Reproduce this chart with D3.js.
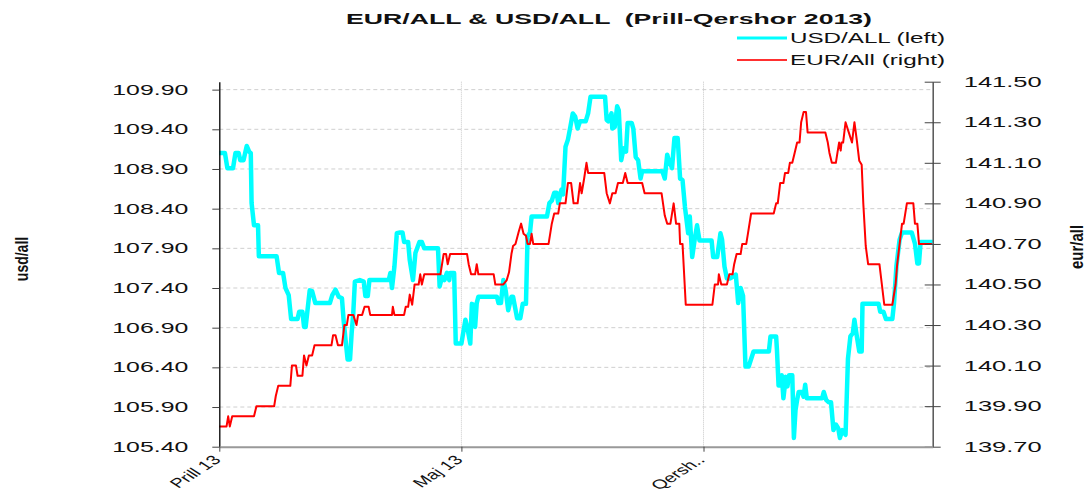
<!DOCTYPE html>
<html>
<head>
<meta charset="utf-8">
<script src="https://cdnjs.cloudflare.com/ajax/libs/d3/7.8.5/d3.min.js"></script>
<style>
  body { margin: 0; background: #fff; }
  text { font-family: "Liberation Sans", Arial, sans-serif; fill: #111; }
  .title { white-space: pre; }
</style>
</head>
<body>
<svg id="chart"></svg>
<script>
// USD/ALL (left axis): [days since 1 April, rate]
var usdSeries = [
  [0.0,109.10],[0.7,109.10],[1.0,108.91],[1.7,108.91],[2.0,109.10],[2.4,109.10],[2.6,109.01],[3.0,109.01],
  [3.4,109.19],[3.7,109.12],[3.9,109.10],[4.0,108.47],[4.3,108.19],[4.8,108.19],[4.9,107.80],[7.1,107.80],
  [7.4,107.59],[7.9,107.59],[8.2,107.40],[8.6,107.31],[8.9,107.01],[9.7,107.01],[9.9,107.10],[10.3,107.10],
  [10.5,106.91],[10.7,106.91],[11.2,107.37],[11.5,107.36],[11.9,107.21],[13.7,107.21],[14.0,107.31],[14.4,107.38],
  [14.8,107.29],[15.2,107.27],[15.4,107.00],[15.6,106.79],[15.9,106.50],[16.2,106.50],[16.4,106.83],[16.6,107.08],
  [16.8,107.48],[17.4,107.50],[17.9,107.48],[18.1,107.30],[18.4,107.30],[18.6,107.50],[21.0,107.50],[21.2,107.59],
  [21.4,107.40],[21.7,107.67],[22.0,108.09],[22.4,108.10],[22.7,108.10],[22.9,107.98],[23.4,107.98],[23.6,107.75],
  [24.0,107.50],[24.3,107.84],[24.8,107.98],[25.1,107.98],[25.4,107.90],[27.1,107.90],[27.3,107.42],[27.6,107.54],
  [27.9,107.50],[28.2,107.59],[28.5,107.50],[28.6,107.59],[29.1,107.59],[29.3,106.70],[30.0,106.70],[30.5,107.00],
  [30.7,106.92],[31.1,106.70],[31.3,107.20],[31.6,107.18],[31.7,106.91],[31.9,107.21],[32.1,107.29],[34.4,107.29],
  [34.6,107.21],[34.9,107.21],[35.2,107.50],[35.5,107.36],[35.8,107.12],[36.2,107.29],[36.4,107.29],[36.9,107.02],
  [37.3,107.02],[37.6,107.20],[38.0,107.20],[38.2,108.05],[38.5,108.10],[38.7,108.30],[40.6,108.30],[40.9,108.47],
  [41.2,108.50],[41.5,108.60],[41.8,108.60],[42.0,108.47],[42.4,108.64],[42.6,108.58],[42.9,109.18],[43.2,109.27],
  [43.5,109.43],[43.8,109.60],[44.1,109.56],[44.4,109.41],[44.7,109.50],[45.4,109.50],[45.7,109.60],[46.0,109.81],
  [47.8,109.81],[48.0,109.52],[48.2,109.50],[48.6,109.60],[48.7,109.41],[49.0,109.43],[49.3,109.69],[49.5,109.64],
  [49.8,109.01],[50.1,109.16],[50.4,109.12],[50.6,109.48],[51.1,109.48],[51.3,109.41],[51.6,109.05],[51.9,109.01],
  [52.2,108.78],[52.4,108.87],[54.9,108.87],[55.2,108.78],[55.5,109.08],[55.7,109.01],[56.1,108.91],[56.4,109.29],
  [56.8,109.29],[57.1,108.78],[57.4,108.76],[57.7,108.42],[58.1,108.09],[58.3,108.30],[58.6,107.79],[58.9,108.01],
  [59.2,108.19],[59.5,108.00],[61.0,108.00],[61.2,107.79],[61.7,107.79],[62.1,108.09],[62.3,108.01],[62.6,107.67],
  [62.9,107.52],[63.3,107.52],[63.6,107.54],[64.0,107.57],[64.3,107.21],[64.6,107.40],[64.9,107.30],[65.2,106.41],
  [65.6,106.41],[66.2,106.60],[68.1,106.60],[68.3,106.79],[69.0,106.79],[69.1,106.62],[69.3,106.17],[69.5,106.17],
  [69.7,106.30],[69.9,106.01],[70.2,106.28],[70.4,106.16],[70.6,106.30],[71.0,106.30],[71.2,105.51],[71.4,105.86],
  [71.6,105.99],[71.8,106.09],[72.2,106.09],[72.4,106.03],[72.6,106.18],[72.8,106.01],[74.7,106.01],[74.9,106.09],
  [75.2,105.99],[75.5,105.96],[75.8,105.96],[76.1,105.61],[76.4,105.68],[76.7,105.63],[76.9,105.51],[77.2,105.61],
  [77.6,105.55],[77.9,106.51],[78.2,106.79],[78.5,106.83],[78.7,107.00],[79.0,106.79],[79.3,106.60],[79.6,106.60],
  [79.7,107.20],[81.7,107.20],[81.9,107.10],[82.3,107.10],[82.6,107.01],[83.4,107.01],[83.6,107.20],[83.9,107.67],
  [84.3,108.01],[84.6,108.10],[85.8,108.10],[86.2,107.96],[86.5,107.71],[86.7,107.71],[86.9,107.98],[88.4,107.98]
];

// EUR/ALL (right axis): [days since 1 April, rate]
var eurSeries = [
  [0.0,139.80],[0.9,139.80],[1.1,139.85],[1.3,139.80],[1.6,139.85],[4.3,139.85],[4.6,139.90],[6.8,139.90],
  [7.0,139.95],[7.3,140.00],[8.8,140.00],[9.0,140.10],[9.5,140.10],[9.7,140.05],[10.3,140.05],[10.5,140.15],
  [10.8,140.10],[11.1,140.15],[11.5,140.15],[11.8,140.20],[13.9,140.20],[14.1,140.25],[14.4,140.25],[14.7,140.20],
  [15.2,140.20],[15.5,140.30],[15.8,140.30],[16.0,140.35],[16.6,140.35],[17.0,140.30],[17.2,140.35],[17.7,140.35],
  [18.0,140.39],[18.5,140.39],[18.7,140.35],[21.4,140.35],[21.5,140.39],[21.7,140.35],[22.9,140.35],[23.1,140.39],
  [23.4,140.39],[23.6,140.45],[23.9,140.40],[24.2,140.50],[24.7,140.50],[24.9,140.55],[25.1,140.50],[25.4,140.55],
  [27.4,140.55],[27.8,140.65],[28.1,140.65],[28.3,140.60],[28.6,140.65],[30.7,140.65],[30.9,140.60],[31.2,140.55],
  [31.7,140.55],[31.9,140.60],[32.1,140.55],[34.0,140.55],[34.2,140.50],[35.2,140.50],[35.6,140.52],[35.9,140.56],
  [36.2,140.65],[36.4,140.69],[36.7,140.70],[37.1,140.76],[37.4,140.80],[37.7,140.75],[38.0,140.74],[38.2,140.70],
  [38.5,140.70],[38.7,140.75],[38.9,140.70],[40.8,140.70],[41.0,140.75],[41.2,140.80],[41.5,140.85],[42.0,140.85],
  [42.2,140.90],[42.9,140.90],[43.2,141.00],[43.6,141.00],[43.9,140.90],[44.4,140.90],[44.7,141.00],[44.9,140.95],
  [45.2,141.02],[45.5,141.10],[45.7,141.05],[47.7,141.05],[48.0,140.95],[48.4,140.90],[48.7,140.95],[49.1,140.95],
  [49.4,141.00],[50.0,141.00],[50.3,141.05],[50.6,141.00],[52.4,141.00],[52.7,140.95],[54.8,140.95],[55.2,140.84],
  [55.5,140.80],[55.9,140.80],[56.3,140.90],[56.6,140.80],[57.0,140.80],[57.1,140.70],[57.4,140.70],[57.8,140.40],
  [61.1,140.40],[61.4,140.50],[61.8,140.50],[61.9,140.55],[62.2,140.50],[62.9,140.50],[63.2,140.55],[63.6,140.55],
  [63.8,140.60],[64.1,140.65],[64.6,140.65],[64.8,140.70],[65.3,140.70],[65.5,140.75],[65.9,140.85],[68.7,140.85],
  [69.0,140.90],[69.2,140.90],[69.5,141.00],[69.9,141.00],[70.1,141.05],[70.5,141.05],[70.7,141.10],[71.0,141.10],
  [71.3,141.15],[71.6,141.20],[71.9,141.20],[72.1,141.30],[72.4,141.35],[72.7,141.35],[72.9,141.25],[75.1,141.25],
  [75.4,141.20],[75.6,141.15],[75.9,141.10],[76.4,141.10],[76.6,141.15],[76.8,141.20],[77.0,141.16],[77.1,141.20],
  [77.3,141.20],[77.6,141.30],[78.0,141.25],[78.4,141.20],[78.7,141.30],[79.0,141.21],[79.3,141.11],[79.6,141.09],
  [79.8,140.90],[80.1,140.69],[80.4,140.60],[81.8,140.60],[82.1,140.50],[82.4,140.40],[83.4,140.40],[83.8,140.50],
  [84.0,140.60],[84.3,140.70],[84.6,140.80],[84.8,140.80],[85.2,140.90],[86.0,140.90],[86.2,140.80],[86.5,140.80],
  [86.7,140.70],[88.3,140.70]
];

var monthDays = [0, 30, 60];
var monthLabels = ["Prill 13", "Maj 13", "Qersh.."];
var usdTicks = [105.40, 105.90, 106.40, 106.90, 107.40, 107.90, 108.40, 108.90, 109.40, 109.90];
var eurTicks = [139.70, 139.90, 140.10, 140.30, 140.50, 140.70, 140.90, 141.10, 141.30, 141.50];

var W = 1086, H = 489;
var plot = {left: 219.3, right: 932.7, top: 81.7, bottom: 446.7};

var svg = d3.select("#chart")
    .attr("width", W)
    .attr("height", H);

// Scales
var x = d3.scaleLinear().domain([0, 88.4]).range([plot.left, plot.right]);
var yL = d3.scaleLinear().domain([105.40, 110.00]).range([plot.bottom, plot.top]);
var yR = d3.scaleLinear().domain([139.70, 141.50]).range([plot.bottom, plot.top]);

// Horizontal grid (left ticks)
svg.append("g")
  .selectAll("line")
  .data(usdTicks.slice(1))
  .enter()
  .append("line")
    .attr("x1", plot.left).attr("x2", plot.right)
    .attr("y1", function(d) { return yL(d); })
    .attr("y2", function(d) { return yL(d); })
    .attr("stroke", "#cfcfcf")
    .attr("stroke-dasharray", "4,3");

// Vertical grid at month starts
svg.append("g")
  .selectAll("line")
  .data(monthDays.slice(1))
  .enter()
  .append("line")
    .attr("x1", function(d) { return x(d); })
    .attr("x2", function(d) { return x(d); })
    .attr("y1", plot.top).attr("y2", plot.bottom)
    .attr("stroke", "#c8c8c8")
    .attr("stroke-dasharray", "1,1");

// Lines
var usdLine = d3.line()
    .x(function(d) { return x(d[0]); })
    .y(function(d) { return yL(d[1]); });
var eurLine = d3.line()
    .x(function(d) { return x(d[0]); })
    .y(function(d) { return yR(d[1]); });

svg.append("path")
    .datum(usdSeries)
    .attr("d", usdLine)
    .attr("fill", "none")
    .attr("stroke", "#00ffff")
    .attr("stroke-width", 4.5)
    .attr("stroke-linejoin", "round");

svg.append("path")
    .datum(eurSeries)
    .attr("d", eurLine)
    .attr("fill", "none")
    .attr("stroke", "#ff0000")
    .attr("stroke-width", 2)
    .attr("stroke-linejoin", "round");

// Left axis
var leftAxis = svg.append("g")
    .attr("transform", "translate(" + plot.left + ",0)")
    .call(d3.axisLeft(yL).tickValues(usdTicks).tickFormat(d3.format(".2f")).tickSize(7).tickSizeOuter(0));
leftAxis.select(".domain").attr("stroke", "#000").attr("stroke-width", 1.3);
leftAxis.selectAll(".tick line").attr("stroke", "#444");
leftAxis.selectAll("text")
    .attr("x", -31)
    .attr("font-size", 14)
    .attr("textLength", 76)
    .attr("lengthAdjust", "spacingAndGlyphs");

// Right axis
var rightAxis = svg.append("g")
    .attr("transform", "translate(" + plot.right + ",0)")
    .call(d3.axisRight(yR).tickValues(eurTicks).tickFormat(d3.format(".2f")).tickSize(8).tickSizeOuter(0));
rightAxis.select(".domain").attr("stroke", "#555").attr("stroke-width", 1.5);
rightAxis.selectAll(".tick line").attr("stroke", "#444").attr("x1", -8);
rightAxis.selectAll("text")
    .attr("x", 31)
    .attr("font-size", 14)
    .attr("textLength", 78)
    .attr("lengthAdjust", "spacingAndGlyphs");

// Bottom axis
var bottomAxis = svg.append("g")
    .attr("transform", "translate(0," + plot.bottom + ")")
    .call(d3.axisBottom(x).tickValues(monthDays).tickFormat(function(d, i) { return monthLabels[i]; }).tickSize(5).tickSizeOuter(0));
bottomAxis.select(".domain").attr("stroke", "#999").attr("stroke-width", 2);
bottomAxis.selectAll(".tick line").attr("stroke", "#444");
bottomAxis.selectAll("text")
    .attr("y", null).attr("dy", null)
    .attr("font-size", 13)
    .attr("text-anchor", "end")
    .attr("transform", "translate(2,14) scale(1.55,1) rotate(-45)");

// Axis titles
svg.append("text")
    .attr("transform", "translate(28,259) scale(1.35,1) rotate(-90)")
    .attr("text-anchor", "middle")
    .attr("font-size", 14)
    .attr("font-weight", "bold")
    .text("usd/all");

svg.append("text")
    .attr("transform", "translate(1083,247) scale(1.2,1) rotate(-90)")
    .attr("text-anchor", "middle")
    .attr("font-size", 15)
    .attr("font-weight", "bold")
    .text("eur/all");

// Title
svg.append("text")
    .attr("class", "title")
    .attr("x", 346)
    .attr("y", 24)
    .attr("font-size", 14)
    .attr("font-weight", "bold")
    .attr("textLength", 526)
    .attr("lengthAdjust", "spacingAndGlyphs")
    .text("EUR/ALL & USD/ALL  (Prill-Qershor 2013)");

// Legend
var legend_attr = [["USD/ALL (left)", "#00ffff", 3, 38], ["EUR/All (right)", "#ff3030", 2, 60]];
var legend = svg.append("g").attr("class", "legend");
legend.selectAll("line")
  .data(legend_attr)
  .enter()
  .append("line")
    .attr("x1", 737).attr("x2", 787)
    .attr("y1", function(d) { return d[3]; })
    .attr("y2", function(d) { return d[3]; })
    .attr("stroke", function(d) { return d[1]; })
    .attr("stroke-width", function(d) { return d[2]; });
legend.selectAll("text")
  .data(legend_attr)
  .enter()
  .append("text")
    .attr("x", 790)
    .attr("y", function(d) { return d[3] + 5; })
    .attr("font-size", 14)
    .attr("textLength", 155)
    .attr("lengthAdjust", "spacingAndGlyphs")
    .text(function(d) { return d[0]; });
</script>
</body>
</html>
